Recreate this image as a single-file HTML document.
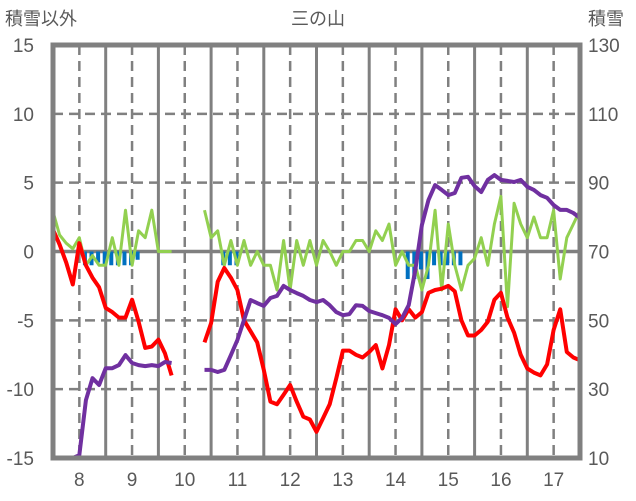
<!DOCTYPE html>
<html><head><meta charset="utf-8"><style>
html,body{margin:0;padding:0;background:#fff;}
svg{display:block;font-family:"Liberation Sans","Noto Sans CJK JP",sans-serif;}
</style></head><body>
<svg id="chart" width="636" height="501" viewBox="0 0 636 501" xmlns="http://www.w3.org/2000/svg">
<text x="5" y="25" font-size="18" fill="#595959">積雪以外</text>
<text x="318" y="25" font-size="18" fill="#595959" text-anchor="middle">三の山</text>
<text x="588" y="25" font-size="18" fill="#595959">積雪</text>
<g id="grid"></g><g id="bars"></g><g id="lines"></g><g id="frame"></g><g id="labels"></g>
</svg>
<script>
const dayTicks=[8,9,10,11,12,13,14,15,16,17];
const leftTicks=[15,10,5,0,-5,-10,-15];
const rightTicks=[130,110,90,70,50,30,10];
const tStart=7.5, tStep=0.125;
const temp=[1.6,0.5,-0.8,-2.4,0.6,-1.0,-1.9,-2.6,-4.1,-4.4,-4.8,-4.8,-3.5,-5.1,-7.0,-6.9,-6.4,-7.4,-9.0,null,null,null,null,-6.6,-5.2,-2.2,-1.2,-1.9,-2.8,-5.0,-5.8,-6.6,-8.6,-10.9,-11.1,-10.4,-9.7,-10.9,-12.0,-12.2,-13.1,-12.1,-11.1,-9.2,-7.2,-7.2,-7.5,-7.7,-7.3,-6.8,-8.5,-6.8,-4.2,-5.0,-4.2,-4.8,-4.4,-3.0,-2.8,-2.7,-2.5,-2.9,-5.0,-6.1,-6.1,-5.7,-5.1,-3.5,-3.0,-4.8,-5.9,-7.5,-8.5,-8.8,-9.0,-8.2,-5.7,-4.2,-7.3,-7.7,-7.9];
const snowDepth=[10,10,10,10,10.8,26.8,33.2,31.2,36.1,36.1,37,39.9,37.6,37,36.7,37,36.7,37.9,37.6,null,null,null,null,35.6,35.6,35,35.6,39.9,44.3,50.1,55.9,55,54.2,56.5,57.1,60,58.8,57.9,57.1,55.9,55.3,55.9,54.4,52.4,51.5,51.8,54.4,54.2,52.7,52.1,51.5,50.7,48.9,50.7,54.4,64.6,77.7,85,89.3,87.9,86.4,87,91.4,91.7,89,87.3,90.8,92.2,90.8,90.5,90.2,90.8,88.8,87.9,86.4,85.6,83.5,82.1,82.1,81.2,79.7];
const wind=[2.9,1.2,0.6,0.2,1.0,-1.0,-0.3,-1.0,-1.0,1.0,-1.0,3.0,-1.0,1.5,1.0,3.0,0,0,0,null,null,null,null,3.0,1.0,1.5,-1.0,0.8,-1.0,0.8,-1.0,0,-1.0,-1.0,-2.8,0.8,-2.8,0.8,-1.0,0.8,-1.0,0.8,0,-1.0,0,0,0.8,0.8,0,1.5,0.8,2.0,-1.0,0,-1.0,-1.0,-2.8,-1.0,3.0,-2.8,2.0,-1.0,-2.8,-1.0,-0.5,1.0,-1.0,2.0,4.0,-4.0,3.5,2.0,1.0,2.5,1.0,1.0,3.0,-2.0,1.0,2.0,3.0];
const snowfall=[0,0,0,0,0,-1,-1,-0.8,-1,-1,-1,-1,-1,-0.6,0,0,0,0,0,0,0,0,0,0,0,0,-1,-1,-1,0,0,0,0,0,0,0,0,0,0,0,0,0,0,0,0,0,0,0,0,0,0,0,0,0,-2,-2,-1.3,-2,-1,-1,-1,-1,-1,0,0,0,0,0,0,0,0,0,0,0,0,0,0,0,0,0,0];

const L=53,R=580,T=45,B=458;
const NS="http://www.w3.org/2000/svg";
function xS(t){return L+(t-tStart)*(R-L)/10;}
function yL(v){return B-(v+15)*(B-T)/30;}
function yR(v){return B-(v-10)*(B-T)/120;}
function mk(tag,attrs,parent){const e=document.createElementNS(NS,tag);for(const k in attrs)e.setAttribute(k,attrs[k]);parent.appendChild(e);return e;}
const grid=document.getElementById('grid'),bars=document.getElementById('bars'),lines=document.getElementById('lines'),frame=document.getElementById('frame'),labels=document.getElementById('labels');
leftTicks.forEach(v=>{if(v===15||v===-15)return;const y=yL(v);
 const g=mk('line',{x1:L,x2:R,y1:y,y2:y,stroke:'#808080','stroke-width':v===0?3.5:2.5,'stroke-dasharray':v===0?'none':'10,6'},grid);
 
 });
for(let d=8;d<=17;d++){const xd=xS(d);
 const g1=mk('line',{x1:xd,x2:xd,y1:T,y2:B,stroke:'#808080','stroke-width':2.5,'stroke-dasharray':'10,6'},grid);
 
 
 const xs=xS(d+0.5); if(xs<R-2){
 const g2=mk('line',{x1:xs,x2:xs,y1:T,y2:B,stroke:'#808080','stroke-width':3},grid);
 
 }}
snowfall.forEach((v,i)=>{if(!v)return;const x=xS(tStart+i*tStep);
 const r=mk('rect',{x:x-3,y:yL(0),width:4,height:yL(v)-yL(0),fill:'#0070C0'},bars);
 
 });
function path(arr,yf){let d='',pen=false;arr.forEach((v,i)=>{if(v===null){pen=false;return;}const x=xS(tStart+i*tStep),y=yf(v);d+=(pen?'L':'M')+x.toFixed(1)+','+y.toFixed(1);pen=true;});return d;}
const pw=mk('path',{d:path(wind,yL),fill:'none',stroke:'#92D050','stroke-width':3,'stroke-linejoin':'round'},lines);


const pt=mk('path',{d:path(temp,yL),fill:'none',stroke:'#FF0000','stroke-width':4,'stroke-linejoin':'round'},lines);


const ps=mk('path',{d:path(snowDepth,yR),fill:'none',stroke:'#7030A0','stroke-width':4,'stroke-linejoin':'round'},lines);


const fr=mk('rect',{x:L,y:T,width:R-L,height:B-T,fill:'none',stroke:'#808080','stroke-width':5},frame);


leftTicks.forEach(v=>{const t=mk('text',{x:34,y:yL(v)+7,'font-size':19,fill:'#595959','text-anchor':'end'},labels);t.textContent=v;
 
 });
rightTicks.forEach(v=>{const t=mk('text',{x:588,y:yR(v)+7,'font-size':19,fill:'#595959'},labels);t.textContent=v;
 
 });
dayTicks.forEach(d=>{const t=mk('text',{x:xS(d),y:486,'font-size':19,fill:'#595959','text-anchor':'middle'},labels);t.textContent=d;
 
 });
</script>
</body></html>
